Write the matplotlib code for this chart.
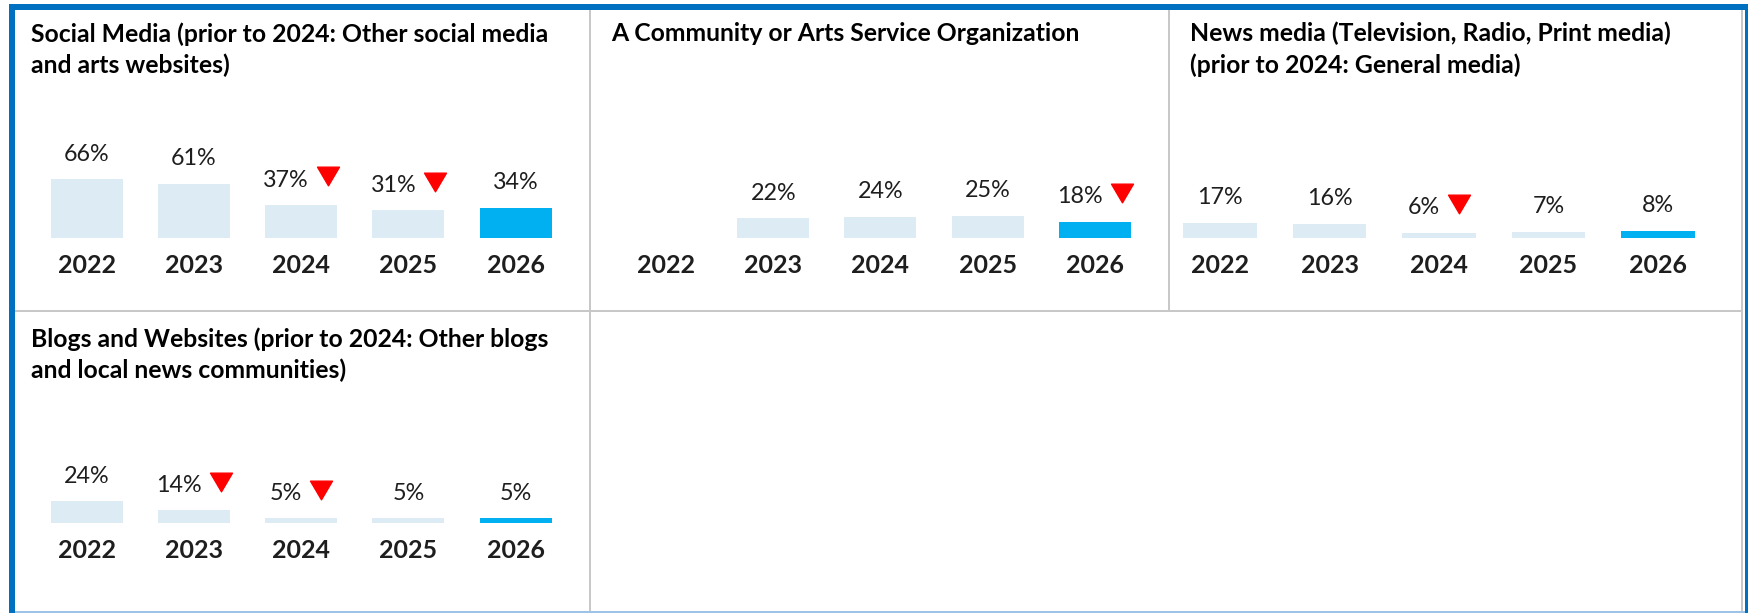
import numpy as np
import matplotlib
matplotlib.use('Agg')
import matplotlib.pyplot as plt
from matplotlib.patches import Rectangle
from matplotlib.path import Path
from matplotlib.transforms import offset_copy

# Data
years = ['2022', '2023', '2024', '2025', '2026']

social_media = [66, 61, 37, 31, 34]
social_media_down = [False, False, True, True, False]

community_org = [np.nan, 22, 24, 25, 18]
community_org_down = [False, False, False, False, True]

news_media = [17, 16, 6, 7, 8]
news_media_down = [False, False, True, False, False]

blogs = [24, 14, 5, 5, 5]
blogs_down = [False, True, True, False, False]

title_social = 'Social Media (prior to 2024: Other social media\nand arts websites)'
title_community = 'A Community or Arts Service Organization'
title_news = 'News media (Television, Radio, Print media)\n(prior to 2024: General media)'
title_blogs = 'Blogs and Websites (prior to 2024: Other blogs\nand local news communities)'

# Styling
W, H = 1748, 613
LIGHT = '#DDEBF4'
HIGHLIGHT = '#00B0F0'
BORDER = '#0070C0'
DIVIDER = '#C8C8C8'
TEXT = '#1E1E1E'
PX_PER_PCT = 0.89

plt.rcParams['font.family'] = ['Lato', 'DejaVu Sans']

fig = plt.figure(figsize=(W / 100, H / 100), dpi=100)
fig.patch.set_facecolor('white')
renderer = fig.canvas.get_renderer()

# down-pointing triangle, a bit wider than tall
tri = Path([(-1, 0.85), (1, 0.85), (0, -0.85), (-1, 0.85)],
           [Path.MOVETO, Path.LINETO, Path.LINETO, Path.CLOSEPOLY])


def frac(x, y, w, h):
    # pixel box measured from the top-left corner -> figure fraction
    return [x / W, 1 - (y + h) / H, w / W, h / H]


def px_rect(x, y, w, h, color):
    fig.add_artist(Rectangle((x / W, 1 - (y + h) / H), w / W, h / H,
                             transform=fig.transFigure, color=color, lw=0))


def draw_panel(first_center, slot, bar_bottom, values, down, title, title_x, title_y):
    area_h = 170
    ax = fig.add_axes(frac(first_center - slot / 2, bar_bottom - area_h, slot * 5, area_h))
    ax.set_xlim(-0.5, 4.5)
    ax.set_ylim(0, area_h / PX_PER_PCT)
    ax.axis('off')

    x = np.arange(len(years))
    colors = [LIGHT] * (len(years) - 1) + [HIGHLIGHT]
    ax.bar(x, values, width=0.67, color=colors, linewidth=0)

    for i, v in enumerate(values):
        ax.annotate(years[i], (i, 0), xytext=(0, -35), textcoords='offset pixels',
                    ha='center', va='baseline', fontsize=18, fontweight='bold',
                    color=TEXT, annotation_clip=False)
        if np.isnan(v):
            continue
        t = ax.annotate(f'{v:.0f}%', (i, v), xytext=(0, 18.5), textcoords='offset pixels',
                        ha='center', va='baseline', fontsize=16.8, color=TEXT,
                        annotation_clip=False)
        if down[i]:
            w = t.get_window_extent(renderer).width
            gap, tri_w = 8, 22
            group = w + gap + tri_w
            t.xyann = (-group / 2 + w / 2, 18.5)
            trans = offset_copy(ax.transData, fig=fig, x=group / 2 - tri_w / 2,
                                y=28.6, units='dots')
            ax.plot([i], [v], marker=tri, markersize=15.8, color='#FF0000',
                    linestyle='none', transform=trans, clip_on=False)

    fig.text(title_x / W, 1 - title_y / H, title, ha='left', va='top',
             fontsize=17.8, fontweight='bold', color='black', linespacing=1.42)


draw_panel(86.8, 107.2, 238, social_media, social_media_down, title_social, 31, 22)
draw_panel(666, 107.2, 238, community_org, community_org_down, title_community, 611, 22)
draw_panel(1220, 109.5, 238, news_media, news_media_down, title_news, 1190, 22)
draw_panel(86.8, 107.2, 522.7, blogs, blogs_down, title_blogs, 31, 327)

# grid dividers
px_rect(589, 10, 2, 603, DIVIDER)
px_rect(1168, 10, 2, 301, DIVIDER)
px_rect(15, 310, 1727, 2, DIVIDER)
px_rect(1741, 10, 2, 603, DIVIDER)

# outer blue frame
px_rect(9, 4, 1739, 6, BORDER)
px_rect(9, 4, 6, 609, BORDER)
px_rect(1745, 4, 3, 609, BORDER)
px_rect(15, 611, 1730, 2, '#9DC3E6')

fig.savefig('out.png', dpi=100, facecolor='white')
